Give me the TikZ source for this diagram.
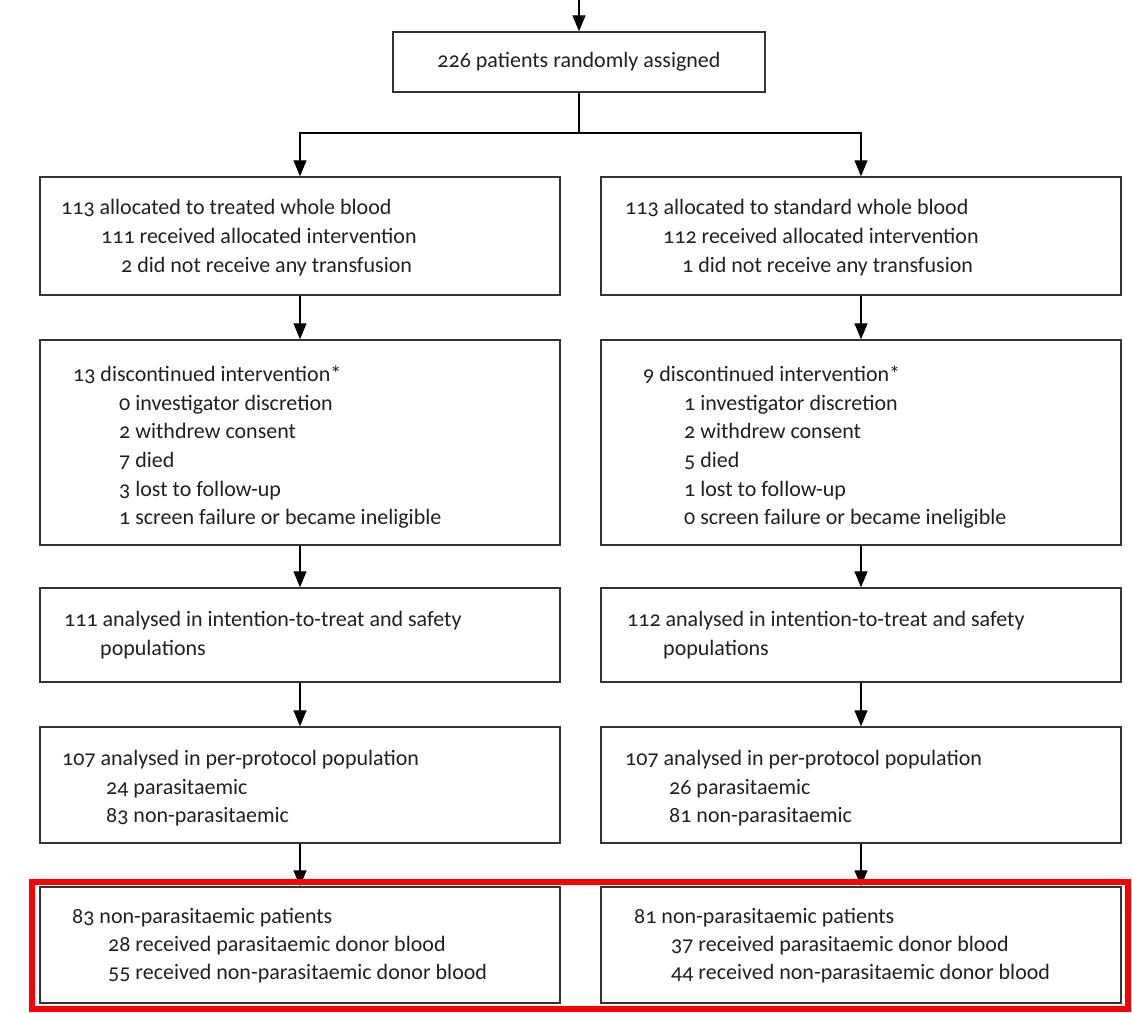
\documentclass[tikz,border=0pt]{standalone}
\usepackage{fontspec}
\setmainfont{Carlito}[Numbers=OldStyle]
\usetikzlibrary{arrows.meta}
\definecolor{txt}{HTML}{231F20}
\definecolor{boxgray}{HTML}{333333}
\begin{document}
\begin{tikzpicture}[x=1pt,y=-1pt,
  box/.style={draw=boxgray,line width=1.4pt,inner sep=0pt,minimum width=520pt},
  lbl/.style={anchor=base west,inner sep=0pt,text=txt,font=\fontsize{22}{26}\selectfont},
  arr/.style={draw=black,line width=1.1pt,-{Triangle[length=16pt,width=13pt]}}
  ]
\useasboundingbox (0,0) rectangle (1132,1012);
% boxes
\node[box,minimum width=372pt,minimum height=60pt,text=txt,font=\fontsize{22}{26}\selectfont] (T) at (579,62) {226 patients randomly assigned};
\node[box,minimum height=118pt] (L1) at (300,236) {};
\node[box,minimum height=118pt] (R1) at (861,236) {};
\node[box,minimum height=205pt] (L2) at (300,442.5) {};
\node[box,minimum height=205pt] (R2) at (861,442.5) {};
\node[box,minimum height=94pt] (L3) at (300,635) {};
\node[box,minimum height=94pt] (R3) at (861,635) {};
\node[box,minimum height=116pt] (L4) at (300,785) {};
\node[box,minimum height=116pt] (R4) at (861,785) {};
\node[box,minimum height=116pt] (L5) at (300,945) {};
\node[box,minimum height=116pt] (R5) at (861,945) {};
% connectors
\coordinate (start) at (579,0);
\coordinate (br) at (579,133);
\draw[arr] (start) -- (T.north);
\draw[draw=black,line width=1.1pt] (T.south) -- (br);
\draw[arr] (br) -| (L1.north);
\draw[arr] (br) -| (R1.north);
\draw[arr] (L1.south) -- (L2.north);
\draw[arr] (R1.south) -- (R2.north);
\draw[arr] (L2.south) -- (L3.north);
\draw[arr] (R2.south) -- (R3.north);
\draw[arr] (L3.south) -- (L4.north);
\draw[arr] (R3.south) -- (R4.north);
\draw[arr] (L4.south) -- (L5.north);
\draw[arr] (R4.south) -- (R5.north);
% texts row 1
\node[lbl] (l1a) at (61,214) {113 allocated to treated whole blood};
\node[lbl] (l1b) at (101,243) {111 received allocated intervention};
\node[lbl] (l1c) at (121,272) {2 did not receive any transfusion};
\node[lbl] (r1a) at (625,214) {113 allocated to standard whole blood};
\node[lbl] (r1b) at (663,243) {112 received allocated intervention};
\node[lbl] (r1c) at (682,272) {1 did not receive any transfusion};
% row 2
\node[lbl] (l2a) at (73,381) {13 discontinued intervention*};
\node[lbl] (l2b) at (119,410) {0 investigator discretion};
\node[lbl] (l2c) at (119,438) {2 withdrew consent};
\node[lbl] (l2d) at (119,467) {7 died};
\node[lbl] (l2e) at (119,496) {3 lost to follow-up};
\node[lbl] (l2f) at (119,524) {1 screen failure or became ineligible};
\node[lbl] (r2a) at (643,381) {9 discontinued intervention*};
\node[lbl] (r2b) at (684,410) {1 investigator discretion};
\node[lbl] (r2c) at (684,438) {2 withdrew consent};
\node[lbl] (r2d) at (684,467) {5 died};
\node[lbl] (r2e) at (684,496) {1 lost to follow-up};
\node[lbl] (r2f) at (684,524) {0 screen failure or became ineligible};
% row 3
\node[lbl] (l3a) at (64,626) {111 analysed in intention-to-treat and safety};
\node[lbl] (l3b) at (100,655) {populations};
\node[lbl] (r3a) at (627,626) {112 analysed in intention-to-treat and safety};
\node[lbl] (r3b) at (663,655) {populations};
% row 4
\node[lbl] (l4a) at (62,765) {107 analysed in per-protocol population};
\node[lbl] (l4b) at (106,794) {24 parasitaemic};
\node[lbl] (l4c) at (106,822) {83 non-parasitaemic};
\node[lbl] (r4a) at (625,765) {107 analysed in per-protocol population};
\node[lbl] (r4b) at (669,794) {26 parasitaemic};
\node[lbl] (r4c) at (669,822) {81 non-parasitaemic};
% row 5
\node[lbl] (l5a) at (72,923) {83 non-parasitaemic patients};
\node[lbl] (l5b) at (108,951) {28 received parasitaemic donor blood};
\node[lbl] (l5c) at (108,979) {55 received non-parasitaemic donor blood};
\node[lbl] (r5a) at (634,923) {81 non-parasitaemic patients};
\node[lbl] (r5b) at (671,951) {37 received parasitaemic donor blood};
\node[lbl] (r5c) at (671,979) {44 received non-parasitaemic donor blood};
% red highlight
\draw[red,line width=6pt] (32,882) rectangle (1128,1009);
\end{tikzpicture}
\end{document}
